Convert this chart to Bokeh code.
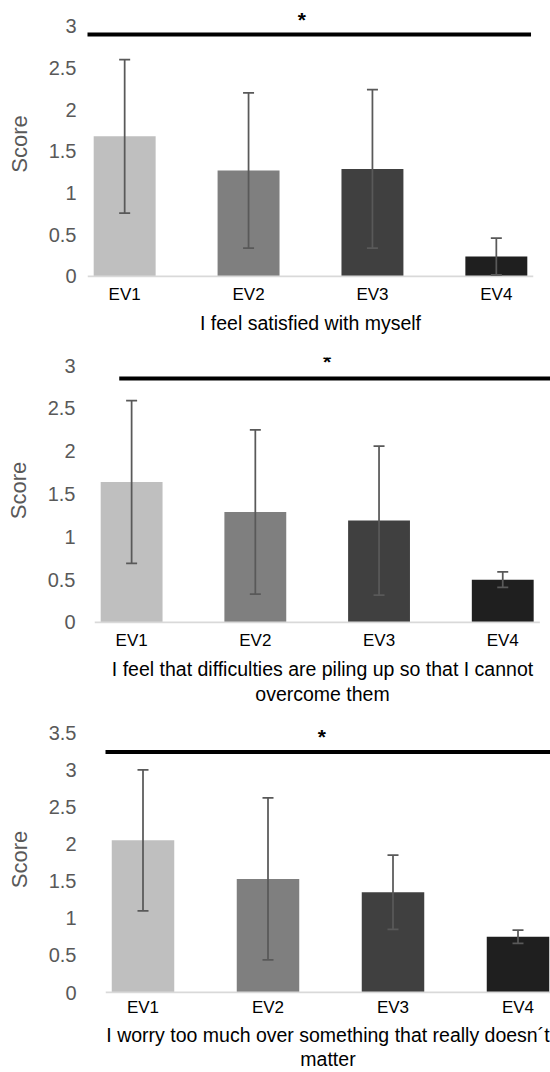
from bokeh.plotting import figure
from bokeh.models import (ColumnDataSource, Whisker, TeeHead, Label, FixedTicker,
                          NumeralTickFormatter, Range1d)
from bokeh.embed import file_html
from bokeh.resources import INLINE

# ---------------- data ----------------
categories = ["EV1", "EV2", "EV3", "EV4"]
bar_colors = ["#bfbfbf", "#7f7f7f", "#404040", "#1f1f1f"]

titles = [
    "I feel satisfied with myself",
    "I feel that difficulties are piling up so that I cannot\novercome them",
    "I worry too much over something that really doesn\u00b4t\nmatter",
]

means_p1 = [1.68, 1.27, 1.29, 0.24]
sd_p1 = [0.92, 0.93, 0.95, 0.22]
means_p2 = [1.64, 1.29, 1.19, 0.50]
sd_p2 = [0.95, 0.96, 0.87, 0.09]
means_p3 = [2.05, 1.53, 1.35, 0.75]
sd_p3 = [0.95, 1.09, 0.50, 0.09]

y_ticks_p1 = [0, 0.5, 1, 1.5, 2, 2.5, 3]
y_ticks_p2 = [0, 0.5, 1, 1.5, 2, 2.5, 3]
y_ticks_p3 = [0, 0.5, 1, 1.5, 2, 2.5, 3, 3.5]

sig_level = [2.90, 2.85, 3.24]
sig_star = ["*", "*", "*"]

# ---------------- layout (positions / sizes) ----------------
FONT = "Liberation Sans"
layouts = [
    dict(h=345, bl=87, br=17, bt=10, bb=68, x_end=3.30, y_start=-0.012, y_end=3.189,
         ylso=11, xlso=7, xals=5, lh=1.15, sig_x0=-0.33, sig_x1=3.28, star_x=1.43,
         star_dy=15.2),
    dict(h=370, bl=94, br=0, bt=12, bb=92, x_end=3.386, y_start=-0.012, y_end=3.095,
         ylso=19, xlso=7, xals=5, lh=1.15, sig_x0=-0.10, sig_x1=3.50, star_x=1.58,
         star_dy=16.9),
    dict(h=357, bl=105, br=0, bt=10, bb=77, x_end=3.26, y_start=-0.0134, y_end=3.596,
         ylso=29, xlso=4, xals=4, lh=1.1, sig_x0=-0.31, sig_x1=3.50, star_x=1.43,
         star_dy=15.5),
]
X_START = -0.30

panels = [
    (means_p1, sd_p1, y_ticks_p1),
    (means_p2, sd_p2, y_ticks_p2),
    (means_p3, sd_p3, y_ticks_p3),
]

figs = []
for i, ((means, sds, yticks), lay) in enumerate(zip(panels, layouts)):
    xs = list(range(len(categories)))
    src = ColumnDataSource(dict(
        x=xs, top=means,
        upper=[m + s for m, s in zip(means, sds)],
        lower=[m - s for m, s in zip(means, sds)],
        color=bar_colors,
    ))
    p = figure(width=550, height=lay["h"], output_backend="svg", toolbar_location=None,
               x_range=Range1d(X_START, lay["x_end"]),
               y_range=Range1d(lay["y_start"], lay["y_end"]),
               min_border_left=lay["bl"], min_border_right=lay["br"],
               min_border_top=lay["bt"], min_border_bottom=lay["bb"])
    p.outline_line_color = None
    p.grid.visible = False
    p.background_fill_color = "white"
    p.border_fill_color = "white"

    p.vbar(x="x", top="top", bottom=0, width=0.5, fill_color="color", line_color=None, source=src)

    # category axis baseline
    p.segment(x0=[X_START], y0=[0], x1=[len(categories) - 1 + 0.3], y1=[0],
              line_color="#d9d9d9", line_width=2)

    w = Whisker(source=src, base="x", upper="upper", lower="lower",
                line_color="#595959", line_width=1.75, level="overlay",
                upper_head=TeeHead(size=11, line_color="#595959", line_width=1.75),
                lower_head=TeeHead(size=11, line_color="#595959", line_width=1.75))
    p.add_layout(w)

    # significance bar and star
    p.segment(x0=[lay["sig_x0"]], y0=[sig_level[i]], x1=[lay["sig_x1"]], y1=[sig_level[i]],
              line_color="black", line_width=4, line_cap="butt")
    p.add_layout(Label(x=lay["star_x"], y=sig_level[i], text=sig_star[i],
                       y_offset=lay["star_dy"],
                       text_align="center", text_baseline="alphabetic",
                       text_font=FONT, text_font_size="21px", text_font_style="bold",
                       text_color="black"))

    # x axis
    xa = p.xaxis[0]
    xa.ticker = FixedTicker(ticks=xs)
    xa.major_label_overrides = {x: c for x, c in zip(xs, categories)}
    xa.axis_line_color = None
    xa.major_tick_line_color = None
    xa.minor_tick_line_color = None
    xa.major_tick_out = 0
    xa.major_tick_in = 0
    xa.major_label_standoff = lay["xlso"]
    xa.major_label_text_font = FONT
    xa.major_label_text_font_size = "17px"
    xa.major_label_text_color = "black"
    xa.axis_label = titles[i]
    xa.axis_label_standoff = lay["xals"]
    xa.axis_label_text_font = FONT
    xa.axis_label_text_font_size = "19.5px"
    xa.axis_label_text_font_style = "normal"
    xa.axis_label_text_line_height = lay["lh"]
    xa.axis_label_text_color = "black"

    # y axis
    ya = p.yaxis[0]
    ya.ticker = FixedTicker(ticks=yticks)
    ya.formatter = NumeralTickFormatter(format="0.[0]")
    ya.axis_line_color = None
    ya.major_tick_line_color = None
    ya.minor_tick_line_color = None
    ya.major_tick_out = 0
    ya.major_tick_in = 0
    ya.major_label_standoff = lay["ylso"]
    ya.major_label_text_font = FONT
    ya.major_label_text_font_size = "20px"
    ya.major_label_text_color = "#595959"
    ya.axis_label = "Score"
    ya.axis_label_standoff = 14
    ya.axis_label_text_font = FONT
    ya.axis_label_text_font_size = "22px"
    ya.axis_label_text_font_style = "normal"
    ya.axis_label_text_color = "#595959"

    figs.append(p)

# separate roots so that the three charts keep their own plot-area widths
open("out.html", "w").write(file_html(figs, INLINE))
